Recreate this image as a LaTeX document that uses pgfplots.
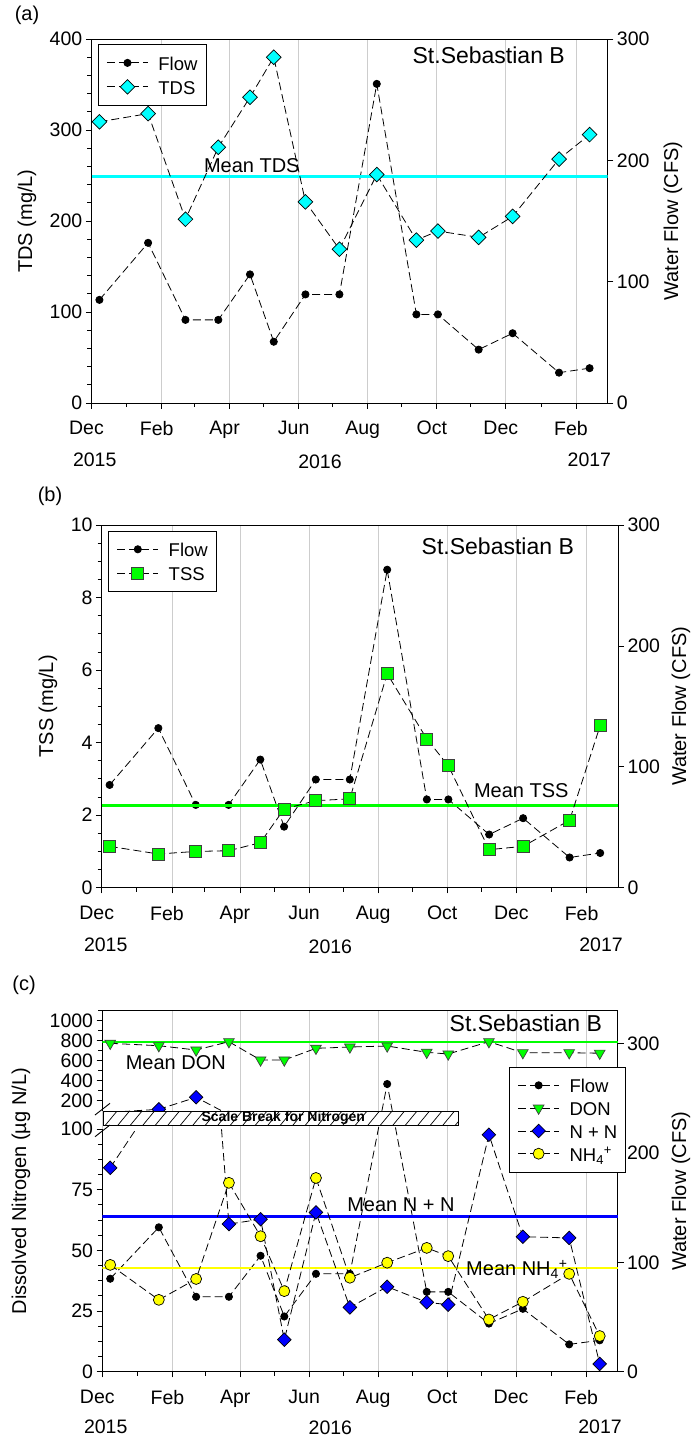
\documentclass[border=0pt]{standalone}
\usepackage{pgfplots}
\usepackage{pgfplotstable}
\pgfplotsset{compat=1.18}
\usepackage{fontspec}
\setmainfont{Liberation Sans}

\definecolor{tdscyan}{RGB}{0,255,255}
\definecolor{brightgreen}{RGB}{0,255,0}
\definecolor{nnblue}{RGB}{0,0,255}
\definecolor{nhyellow}{RGB}{255,255,0}
\definecolor{gridgray}{RGB}{205,205,205}

\newcommand{\tickfont}{\fontsize{19.5bp}{23bp}\selectfont}
\newcommand{\labfont}{\fontsize{20bp}{24bp}\selectfont}
\newcommand{\sitefont}{\fontsize{23bp}{27bp}\selectfont}
\newcommand{\legfont}{\fontsize{18.5bp}{22bp}\selectfont}

% Sampling dates as days after 1 Dec 2015; flow in CFS, TDS and TSS in mg/L,
% nitrogen species (DON, nitrate+nitrite, ammonium) in ug N/L
\pgfplotstableread{
day flow  tds tss  don nn   nh
7   85    309 1.14 774 84.0 44.0
50  132   318 0.93 750 114  29.6
83  68.5  202 1.00 707 234  38.2
112 68.5  281 1.02 790 60.8 77.8
140 106   336 1.24 607 62.8 55.8
161 50.5  380 2.17 607 13.2 33.2
189 89.5  221 2.40 724 65.6 79.8
219 89.5  169 2.45 737 26.5 38.7
252 263   251 5.90 747 35.0 44.9
287 73    179 4.10 684 28.6 51.0
306 73    189 3.36 667 27.6 47.6
342 44    182 1.05 790 97.6 21.5
372 57.5  205 1.14 680 55.6 28.8
413 25    268 1.86 680 55.1 40.3
440 28.7  295 4.47 675 3.2  14.7
}\sitedata

\pgfplotsset{
  panel/.style={
    scale only axis, xmin=0, xmax=456,
    major tick length=5.7bp, minor tick length=4bp,
    every tick/.style={black, line width=0.8bp},
    axis line style={black, line width=0.9bp},
    tick label style={font=\tickfont},
    /pgf/number format/assume math mode=true,
    /pgf/number format/1000 sep={},
  },
  ylab/.style={every axis y label/.style={at={(axis description cs:#1,0.5)},
    rotate=90, anchor=center, font=\labfont}},
  timeaxis/.style={
    xtick={0,62,122,183,244,305,366,428},
    xticklabels={Dec,Feb,Apr,Jun,Aug,Oct,Dec,Feb},
    minor xtick={31,91,152,213,274,335,397},
    xticklabel style={yshift=-9bp, xshift=-5bp},
    xmajorgrids, major grid style={gridgray, line width=0.8bp},
  },
  dashline/.style={black, line width=0.8bp, dash pattern=on 8bp off 4bp},
  flowplot/.style={dashline, mark=*, mark size=3.6bp,
    mark options={solid, fill=black, draw=black}},
  tdsplot/.style={dashline, mark=square*, mark size=5.2bp,
    mark options={solid, rotate=45, fill=tdscyan, draw=black, line width=0.7bp}},
  tssplot/.style={dashline, mark=square*, mark size=6bp,
    mark options={solid, fill=brightgreen, draw=black!75, line width=0.8bp}},
  donplot/.style={dashline, mark=triangle*, mark size=6.2bp,
    mark options={solid, rotate=180, fill=brightgreen, draw=black!75, line width=0.7bp}},
  nnplot/.style={dashline, mark=square*, mark size=4.8bp,
    mark options={solid, rotate=45, fill=nnblue, draw=black, line width=0.7bp}},
  nhplot/.style={dashline, mark=*, mark size=5.5bp,
    mark options={solid, fill=nhyellow, draw=black, line width=0.7bp}},
  keybox/.style={
    legend cell align=left,
    legend image code/.code={\draw[mark repeat=2, mark phase=2, ##1]
      plot coordinates {(0bp,0bp) (20.5bp,0bp) (41bp,0bp)};},
    legend style={draw=black, line width=0.8bp, font=\legfont, anchor=north west,
      inner xsep=8.5bp, inner ysep=8.6bp, row sep=4.8bp, column sep=10bp,
      nodes={inner sep=0pt, text height=17bp, text depth=2.2bp}},
  },
}

\begin{document}
\begin{tikzpicture}
\useasboundingbox (0,0) rectangle (691bp,-1441bp);

% ================= (a) TDS =================
\begin{axis}[panel, timeaxis, at={(91.5bp,-403bp)}, anchor=south west,
  width=516.2bp, height=364bp,
  ymin=0, ymax=300, ytick={0,100,200,300},
  xtick pos=left, ytick pos=right, yticklabel pos=right,
  ylab=1.1265, ylabel={Water Flow (CFS)},
  tick align=outside]
  \addplot[flowplot] table[x=day, y=flow] {\sitedata};
\end{axis}
\begin{axis}[panel, keybox, at={(91.5bp,-403bp)}, anchor=south west,
  width=516.2bp, height=364bp,
  ymin=0, ymax=400, ytick={0,100,200,300,400}, minor y tick num=4,
  axis x line=none, axis y line*=left,
  ylab=-0.125, ylabel={TDS (mg/L)},
  legend style={at={(axis description cs:0.012,0.9855)}},
  tick align=outside]
  \addplot[tdscyan, line width=2.5bp, forget plot] coordinates {(0,248.7) (456,248.7)};
  \addlegendimage{flowplot}
  \addlegendentry{Flow}
  \addplot[tdsplot] table[x=day, y=tds] {\sitedata};
  \addlegendentry{TDS}
\end{axis}
\node[font=\labfont] at (27bp,-15bp) {(a)};
\node[font=\sitefont] at (488.7bp,-55bp) {St.Sebastian B};
\node[font=\labfont] at (251.8bp,-165.7bp) {Mean TDS};
\node[font=\tickfont] at (94.7bp,-459.3bp) {2015};
\node[font=\tickfont] at (320bp,-461.7bp) {2016};
\node[font=\tickfont] at (589.4bp,-459.3bp) {2017};

% ================= (b) TSS =================
\begin{axis}[panel, timeaxis, at={(101.7bp,-887.7bp)}, anchor=south west,
  width=516.6bp, height=362.7bp,
  ymin=0, ymax=300, ytick={0,100,200,300},
  xtick pos=left, ytick pos=right, yticklabel pos=right,
  ylab=1.1214, ylabel={Water Flow (CFS)},
  tick align=outside]
  \addplot[flowplot] table[x=day, y=flow] {\sitedata};
\end{axis}
\begin{axis}[panel, keybox, at={(101.7bp,-887.7bp)}, anchor=south west,
  width=516.6bp, height=362.7bp,
  ymin=0, ymax=10, ytick={0,2,4,6,8,10}, minor y tick num=3,
  axis x line=none, axis y line*=left,
  ylab=-0.104, ylabel={TSS (mg/L)},
  legend style={at={(axis description cs:0.0122,0.9843)}},
  tick align=outside]
  \addplot[brightgreen, line width=2.5bp, forget plot] coordinates {(0,2.26) (456,2.26)};
  \addlegendimage{flowplot}
  \addlegendentry{Flow}
  \addplot[tssplot] table[x=day, y=tss] {\sitedata};
  \addlegendentry{TSS}
\end{axis}
\node[font=\labfont] at (50bp,-496.7bp) {(b)};
\node[font=\sitefont] at (497.8bp,-546.7bp) {St.Sebastian B};
\node[font=\labfont] at (521.3bp,-790.7bp) {Mean TSS};
\node[font=\tickfont] at (105.7bp,-945bp) {2015};
\node[font=\tickfont] at (330.4bp,-946.7bp) {2016};
\node[font=\tickfont] at (601bp,-945bp) {2017};

% ================= (c) Nitrogen, broken left scale =================
% flow on the right scale, over the full height
\begin{axis}[panel, timeaxis, at={(102.3bp,-1371.7bp)}, anchor=south west,
  width=515.5bp, height=361bp,
  ymin=0, ymax=330, ytick={0,100,200,300},
  axis x line*=bottom, axis y line*=right,
  ylab=1.1226, ylabel={Water Flow (CFS)},
  tick align=outside]
  \addplot[flowplot] table[x=day, y=flow] {\sitedata};
\end{axis}
% lower nitrogen segment, 0--100
\begin{axis}[panel, at={(102.3bp,-1371.7bp)}, anchor=south west,
  width=515.5bp, height=242.8bp,
  ymin=0, ymax=100, ytick={0,25,50,75,100}, minor y tick num=3,
  axis x line=none, axis y line*=left,
  tick align=outside]
  \addplot[nnblue, line width=2.5bp] coordinates {(0,64) (456,64)};
  \addplot[nhyellow, line width=2.5bp] coordinates {(0,42.8) (456,42.8)};
  \addplot[nnplot] table[x=day, y=nn] {\sitedata};
  \addplot[nhplot] table[x=day, y=nh] {\sitedata};
\end{axis}
% upper nitrogen segment, 100--1100
\begin{axis}[panel, keybox, at={(102.3bp,-1110.7bp)}, anchor=south west,
  width=515.5bp, height=100bp,
  ymin=100, ymax=1100, ytick={200,400,600,800,1000},
  minor ytick={300,500,700,900,1100},
  axis x line*=top, xtick=\empty, axis y line*=left,
  legend style={at={(axis description cs:0.7886,0.44)}, row sep=3.6bp},
  tick align=outside]
  \addplot[brightgreen, line width=2.5bp, forget plot] coordinates {(0,785) (456,785)};
  \addlegendimage{flowplot}
  \addlegendentry{Flow}
  \addplot[donplot] table[x=day, y=don] {\sitedata};
  \addlegendentry{DON}
  % N + N above the break only occurs early in 2016
  \addplot[dashline, restrict x to domain=0:115, forget plot] table[x=day, y=nn] {\sitedata};
  \addplot[nnplot, only marks, restrict y to domain=100:1100, forget plot]
    table[x=day, y=nn] {\sitedata};
  \addlegendimage{nnplot}
  \addlegendentry{N + N}
  \addlegendimage{nhplot}
  \addlegendentry{NH\textsubscript{4}\textsuperscript{+}}
\end{axis}
% scale-break band across the nitrogen axis
\begin{scope}
  \fill[white] (103.3bp,-1111.7bp) rectangle (458.3bp,-1125bp);
  \clip (103.3bp,-1111.7bp) rectangle (458.3bp,-1125bp);
  \foreach \x in {93,105.5,...,470} {
    \draw[line width=0.7bp] (\x bp,-1125bp) -- ++(11bp,13.3bp);
  }
\end{scope}
\draw[line width=0.9bp] (103.3bp,-1111.7bp) rectangle (458.3bp,-1125bp);
\node[font=\bfseries\fontsize{14bp}{16bp}\selectfont] at (283.3bp,-1118.3bp) {Scale Break for Nitrogen};
\draw[line width=0.9bp] (95bp,-1115bp) -- (110bp,-1103.3bp);
\draw[line width=0.9bp] (95bp,-1136.7bp) -- (110bp,-1125bp);

\node[font=\labfont, rotate=90] at (21bp,-1191bp) {Dissolved Nitrogen (µg N/L)};
\node[font=\labfont] at (24bp,-985bp) {(c)};
\node[font=\sitefont] at (525.8bp,-1023.3bp) {St.Sebastian B};
\node[font=\labfont] at (175.8bp,-1062.7bp) {Mean DON};
\node[font=\labfont] at (400.9bp,-1205bp) {Mean N + N};
\node[font=\labfont, anchor=base west] at (462.7bp,-1275.5bp) {Mean NH\textsubscript{4}\textsuperscript{+}};
\node[font=\tickfont] at (105.7bp,-1426.7bp) {2015};
\node[font=\tickfont] at (330.4bp,-1428bp) {2016};
\node[font=\tickfont] at (600bp,-1426.7bp) {2017};
\end{tikzpicture}
\end{document}
